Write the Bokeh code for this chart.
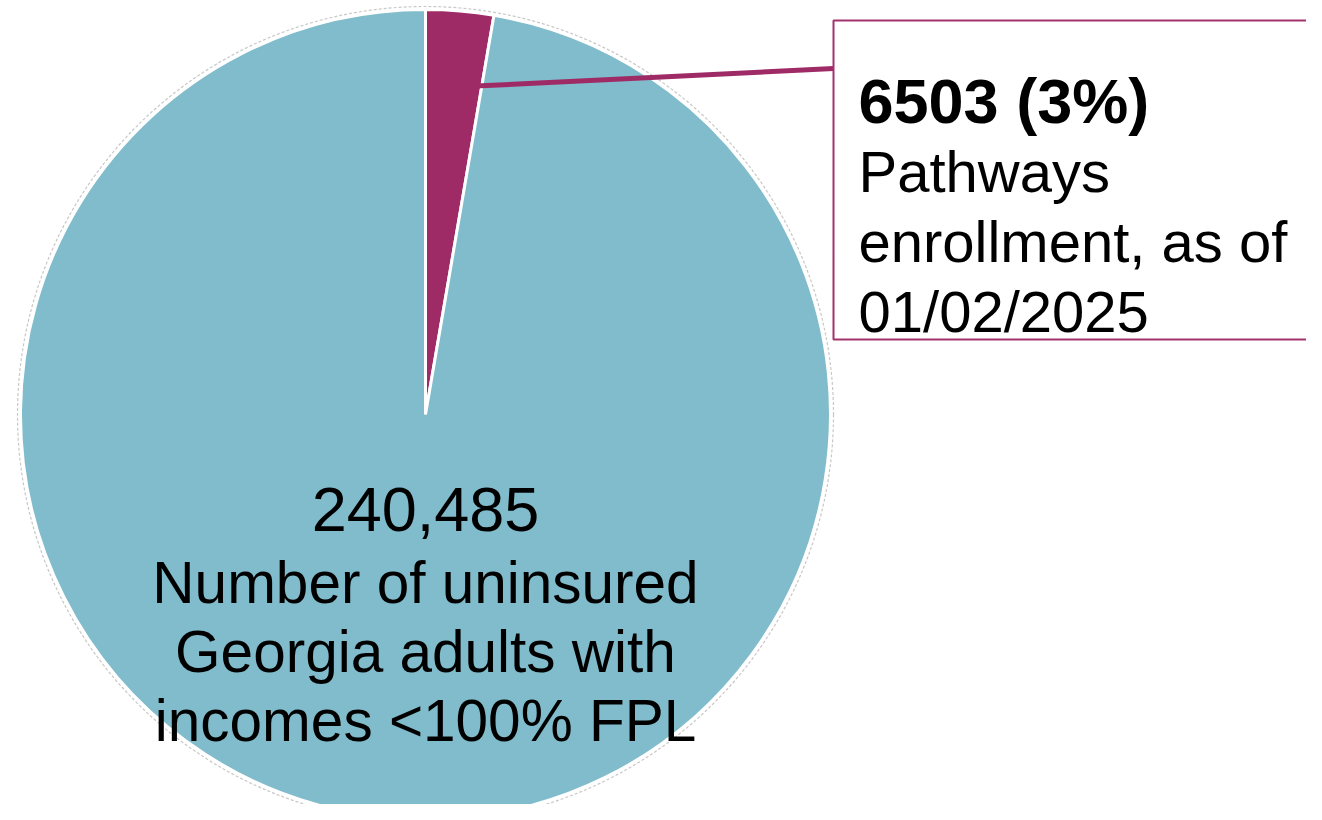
import math
from bokeh.plotting import figure
from bokeh.models import Range1d
from bokeh.core.properties import value
from bokeh.embed import file_html
from bokeh.resources import INLINE

# ---- data ----
categories = ["Pathways enrollment", "Other uninsured adults <100% FPL"]
total_uninsured = 240485
pathways_enrolled = 6503
values = [pathways_enrolled, total_uninsured - pathways_enrolled]
colors = ["#9E2B66", "#80BCCB"]
pct_label = "6503 (3%)"
box_lines = ["Pathways", "enrollment, as of", "01/02/2025"]
pie_number = "240,485"
pie_lines = ["Number of uninsured", "Georgia adults with", "incomes <100% FPL"]

# ---- layout (reference pixel space; y flipped) ----
W, H = 1322, 820
FW, FH = W - 16, H - 16
def Y(py):
    return H - py

FONT = "Liberation Sans"
cx, cy, R = 425, Y(414), 405

p = figure(width=FW, height=FH, output_backend="svg", toolbar_location=None,
           x_range=Range1d(0, FW), y_range=Range1d(H - FH, H),
           x_axis_type=None, y_axis_type=None, min_border=0)
p.grid.visible = False
p.outline_line_color = None
p.background_fill_color = "white"
p.border_fill_color = "white"

# wedges clockwise from 12 o'clock
tot = sum(values)
cum = 0.0
starts, ends = [], []
for v in values:
    c0 = cum / tot
    cum += v
    c1 = cum / tot
    starts.append(math.radians(90 - 360 * c1))
    ends.append(math.radians(90 - 360 * c0))

# soft outer rim
p.circle(x=[cx], y=[cy], radius=R + 3, fill_color=None, line_color="#c8c8c8",
         line_width=1.2, line_dash="3 2")
p.wedge(x=[cx] * len(values), y=[cy] * len(values), radius=R,
        start_angle=starts, end_angle=ends, fill_color=colors,
        line_color="white", line_width=3, direction="anticlock")

# leader line from the small slice to the callout box
a = starts[0] + (ends[0] - starts[0]) * 0.12
lx0 = cx + 0.82 * R * math.cos(a)
ly0 = cy + 0.82 * R * math.sin(a)
box_left, box_top, box_bottom, box_right = 833, 20, 339, 1340
p.segment(x0=[lx0], y0=[ly0], x1=[box_left], y1=[Y(68)], line_color="#9E2B66", line_width=5)

# callout box
p.quad(left=[box_left], right=[box_right], top=[Y(box_top)], bottom=[Y(box_bottom)],
       fill_color="white", line_color="#A3336E", line_width=2)

tx = 858
p.text(x=[tx], y=[Y(100)], text=[pct_label], text_font=value(FONT), text_font_size="63px",
       text_font_style="bold", text_color="black", text_baseline="alphabetic", text_align="left")
p.text(x=[tx] * len(box_lines), y=[Y(171), Y(241), Y(311)], text=box_lines,
       text_font=value(FONT), text_font_size="58px", text_color="black",
       text_baseline="alphabetic", text_align="left")

# pie label
p.text(x=[cx], y=[Y(509)], text=[pie_number],
       text_font=value(FONT), text_font_size="63px", text_color="black",
       text_baseline="alphabetic", text_align="center")
p.text(x=[cx] * len(pie_lines), y=[Y(582), Y(651), Y(720)], text=pie_lines,
       text_font=value(FONT), text_font_size="58.5px", text_color="black",
       text_baseline="alphabetic", text_align="center")

open("out.html", "w").write(file_html(p, INLINE))
